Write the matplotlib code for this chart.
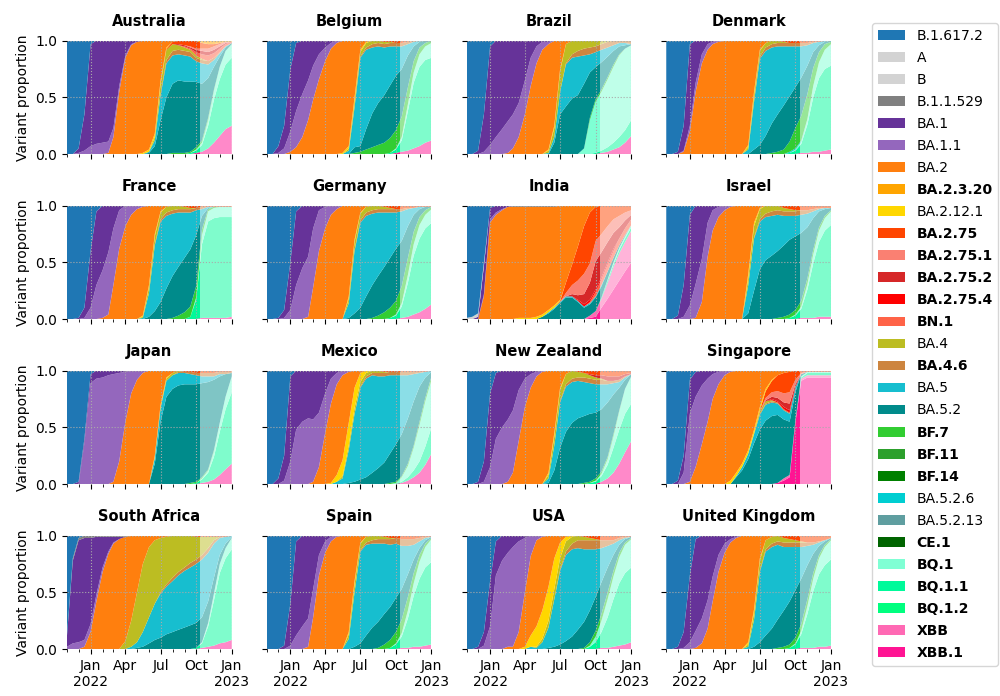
import matplotlib
matplotlib.use('Agg')
import matplotlib.pyplot as plt
import matplotlib.dates as mdates
from matplotlib.patches import Patch
import numpy as np
import pandas as pd


# sampling dates (1st and 16th of each month)
sample_dates = ['2021-11-01', '2021-11-16', '2021-12-01', '2021-12-16',
                '2022-01-01', '2022-01-16', '2022-02-01', '2022-02-16', '2022-03-01', '2022-03-16',
                '2022-04-01', '2022-04-16', '2022-05-01', '2022-05-16', '2022-06-01', '2022-06-16',
                '2022-07-01', '2022-07-16', '2022-08-01', '2022-08-16', '2022-09-01', '2022-09-16',
                '2022-10-01', '2022-10-16', '2022-11-01', '2022-11-16', '2022-12-01', '2022-12-16',
                '2023-01-01']
forecast_start = '2022-10-12'

tick_dates = ['2022-01-01', '2022-04-01', '2022-07-01', '2022-10-01', '2023-01-01']
tick_labels = ['Jan\n2022', 'Apr', 'Jul', 'Oct', 'Jan\n2023']

variants = ['B.1.617.2', 'A', 'B', 'B.1.1.529', 'BA.1', 'BA.1.1', 'BA.2', 'BA.2.3.20',
            'BA.2.12.1', 'BA.2.75', 'BA.2.75.1', 'BA.2.75.2', 'BA.2.75.4', 'BN.1', 'BA.4',
            'BA.4.6', 'BA.5', 'BA.5.2', 'BF.7', 'BF.11', 'BF.14', 'BA.5.2.6', 'BA.5.2.13',
            'CE.1', 'BQ.1', 'BQ.1.1', 'BQ.1.2', 'XBB', 'XBB.1']
variant_colors = ['#1f77b4', 'lightgrey', 'lightgrey', 'grey', 'rebeccapurple', '#9467bd',
                  '#ff7f0e', 'orange', 'gold', 'orangered', 'salmon', '#d62728', 'red',
                  'tomato', '#bcbd22', 'peru', '#17becf', 'darkcyan', 'limegreen', '#2ca02c',
                  'green', 'darkturquoise', 'cadetblue', 'darkgreen', 'aquamarine',
                  'mediumspringgreen', 'springgreen', 'hotpink', 'deeppink']
bold_variants = ['BA.2.3.20', 'BA.2.75', 'BA.2.75.1', 'BA.2.75.2', 'BA.2.75.4', 'BN.1',
                 'BA.4.6', 'BF.7', 'BF.11', 'BF.14', 'CE.1', 'BQ.1', 'BQ.1.1', 'BQ.1.2',
                 'XBB', 'XBB.1']

countries = ['Australia', 'Belgium', 'Brazil', 'Denmark', 'France', 'Germany', 'India',
             'Israel', 'Japan', 'Mexico', 'New Zealand', 'Singapore', 'South Africa',
             'Spain', 'USA', 'United Kingdom']

# variant proportions (%) per country, one value per sample date
australia = {
    'B.1.617.2': [100, 100, 95, 65, 3, 0, 0, 0, 0, 0, 0, 0, 0, 0, 0, 0, 0, 0, 0, 0, 0, 0, 0, 0, 0, 0, 0, 0, 0],
    'BA.1':      [0, 0, 4, 32, 90, 91, 90, 89, 77, 40, 13, 3, 1, 0, 0, 0, 0, 0, 0, 0, 0, 0, 0, 0, 0, 0, 0, 0, 0],
    'BA.1.1':    [0, 0, 1, 3, 7, 9, 10, 10, 8, 5, 2, 1, 0, 0, 0, 0, 0, 0, 0, 0, 0, 0, 0, 0, 0, 0, 0, 0, 0],
    'BA.2':      [0, 0, 0, 0, 0, 0, 0, 1, 15, 55, 85, 96, 99, 99, 96, 82, 35, 6, 1, 0, 0, 0, 0, 0, 0, 0, 0, 0, 0],
    'BA.2.3.20': [0, 0, 0, 0, 0, 0, 0, 0, 0, 0, 0, 0, 0, 0, 0, 0, 0, 0, 0, 0, 0, 0, 0, 2, 3, 3, 2, 1, 1],
    'BA.2.12.1': [0, 0, 0, 0, 0, 0, 0, 0, 0, 0, 0, 0, 0, 1, 2, 3, 3, 1, 0, 0, 0, 0, 0, 0, 0, 0, 0, 0, 0],
    'BA.2.75':   [0, 0, 0, 0, 0, 0, 0, 0, 0, 0, 0, 0, 0, 0, 0, 0, 0, 1, 2, 3, 4, 5, 7, 5, 4, 2, 1, 0, 0],
    'BA.2.75.1': [0, 0, 0, 0, 0, 0, 0, 0, 0, 0, 0, 0, 0, 0, 0, 0, 0, 0, 0, 0, 0, 1, 1, 2, 3, 3, 2, 1, 0],
    'BA.2.75.2': [0, 0, 0, 0, 0, 0, 0, 0, 0, 0, 0, 0, 0, 0, 0, 0, 0, 0, 0, 1, 1, 1, 2, 3, 3, 3, 2, 1, 0],
    'BN.1':      [0, 0, 0, 0, 0, 0, 0, 0, 0, 0, 0, 0, 0, 0, 0, 0, 0, 0, 0, 0, 1, 1, 3, 4, 5, 4, 3, 2, 1],
    'BA.4':      [0, 0, 0, 0, 0, 0, 0, 0, 0, 0, 0, 0, 0, 0, 0, 3, 9, 9, 6, 4, 3, 2, 2, 1, 0, 0, 0, 0, 0],
    'BA.4.6':    [0, 0, 0, 0, 0, 0, 0, 0, 0, 0, 0, 0, 0, 0, 0, 0, 1, 3, 4, 4, 4, 4, 3, 3, 3, 2, 1, 0, 0],
    'BA.5':      [0, 0, 0, 0, 0, 0, 0, 0, 0, 0, 0, 0, 0, 0, 1, 5, 22, 30, 25, 23, 23, 22, 18, 18, 12, 6, 3, 1, 0],
    'BA.5.2':    [0, 0, 0, 0, 0, 0, 0, 0, 0, 0, 0, 0, 0, 0, 1, 7, 30, 50, 61, 64, 63, 62, 57, 50, 35, 20, 9, 3, 1],
    'BF.7':      [0, 0, 0, 0, 0, 0, 0, 0, 0, 0, 0, 0, 0, 0, 0, 0, 0, 0, 1, 1, 1, 1, 2, 2, 2, 1, 0, 0, 0],
    'BQ.1':      [0, 0, 0, 0, 0, 0, 0, 0, 0, 0, 0, 0, 0, 0, 0, 0, 0, 0, 0, 0, 0, 0, 1, 2, 5, 8, 11, 12, 12],
    'BQ.1.1':    [0, 0, 0, 0, 0, 0, 0, 0, 0, 0, 0, 0, 0, 0, 0, 0, 0, 0, 0, 0, 0, 1, 2, 6, 20, 38, 50, 57, 60],
    'XBB.1':     [0, 0, 0, 0, 0, 0, 0, 0, 0, 0, 0, 0, 0, 0, 0, 0, 0, 0, 0, 0, 0, 0, 1, 2, 5, 10, 16, 22, 25],
}

belgium = {
    'B.1.617.2': [100, 100, 93, 75, 25, 2, 0, 0, 0, 0, 0, 0, 0, 0, 0, 0, 0, 0, 0, 0, 0, 0, 0, 0, 0, 0, 0, 0, 0],
    'BA.1':      [0, 0, 6, 20, 55, 60, 47, 35, 22, 12, 6, 2, 0, 0, 0, 0, 0, 0, 0, 0, 0, 0, 0, 0, 0, 0, 0, 0, 0],
    'BA.1.1':    [0, 0, 1, 5, 18, 32, 38, 35, 30, 22, 12, 5, 2, 0, 0, 0, 0, 0, 0, 0, 0, 0, 0, 0, 0, 0, 0, 0, 0],
    'BA.2':      [0, 0, 0, 0, 2, 6, 15, 30, 48, 66, 82, 93, 98, 99, 93, 50, 8, 1, 0, 0, 0, 0, 0, 0, 0, 0, 0, 0, 0],
    'BA.2.12.1': [0, 0, 0, 0, 0, 0, 0, 0, 0, 0, 0, 0, 0, 1, 2, 3, 2, 1, 0, 0, 0, 0, 0, 0, 0, 0, 0, 0, 0],
    'BA.2.75':   [0, 0, 0, 0, 0, 0, 0, 0, 0, 0, 0, 0, 0, 0, 0, 0, 0, 0, 0, 0, 1, 1, 2, 2, 1, 0, 0, 0, 0],
    'BA.4':      [0, 0, 0, 0, 0, 0, 0, 0, 0, 0, 0, 0, 0, 0, 2, 5, 4, 4, 3, 2, 2, 1, 0, 0, 0, 0, 0, 0, 0],
    'BA.4.6':    [0, 0, 0, 0, 0, 0, 0, 0, 0, 0, 0, 0, 0, 0, 0, 1, 1, 2, 3, 3, 3, 3, 3, 3, 2, 1, 0, 0, 0],
    'BA.5':      [0, 0, 0, 0, 0, 0, 0, 0, 0, 0, 0, 0, 0, 0, 3, 35, 78, 70, 58, 50, 42, 34, 26, 20, 10, 4, 1, 0, 0],
    'BA.5.2':    [0, 0, 0, 0, 0, 0, 0, 0, 0, 0, 0, 0, 0, 0, 0, 5, 5, 18, 30, 37, 42, 46, 48, 42, 28, 13, 5, 2, 0],
    'BF.7':      [0, 0, 0, 0, 0, 0, 0, 0, 0, 0, 0, 0, 0, 0, 0, 1, 2, 4, 6, 8, 10, 13, 16, 18, 15, 10, 6, 3, 2],
    'BQ.1':      [0, 0, 0, 0, 0, 0, 0, 0, 0, 0, 0, 0, 0, 0, 0, 0, 0, 0, 0, 0, 0, 0, 1, 3, 6, 9, 11, 12, 13],
    'BQ.1.1':    [0, 0, 0, 0, 0, 0, 0, 0, 0, 0, 0, 0, 0, 0, 0, 0, 0, 0, 0, 0, 0, 1, 3, 10, 35, 58, 70, 73, 73],
    'XBB.1':     [0, 0, 0, 0, 0, 0, 0, 0, 0, 0, 0, 0, 0, 0, 0, 0, 0, 0, 0, 0, 0, 0, 1, 2, 3, 5, 7, 10, 12],
}

brazil = {
    'B.1.617.2': [100, 100, 97, 65, 5, 0, 0, 0, 0, 0, 0, 0, 0, 0, 0, 0, 0, 0, 0, 0, 0, 0, 0, 0, 0, 0, 0, 0, 0],
    'BA.1':      [0, 0, 3, 33, 87, 85, 78, 71, 65, 55, 35, 15, 5, 1, 1, 0, 0, 0, 0, 0, 0, 0, 0, 0, 0, 0, 0, 0, 0],
    'BA.1.1':    [0, 0, 0, 2, 8, 15, 22, 28, 30, 30, 30, 25, 15, 7, 2, 0, 0, 0, 0, 0, 0, 0, 0, 0, 0, 0, 0, 0, 0],
    'BA.2':      [0, 0, 0, 0, 0, 0, 0, 1, 5, 15, 35, 60, 80, 92, 93, 75, 25, 3, 0, 0, 0, 0, 0, 0, 0, 0, 0, 0, 0],
    'BA.2.12.1': [0, 0, 0, 0, 0, 0, 0, 0, 0, 0, 0, 0, 0, 0, 1, 2, 2, 0, 0, 0, 0, 0, 0, 0, 0, 0, 0, 0, 0],
    'BA.4':      [0, 0, 0, 0, 0, 0, 0, 0, 0, 0, 0, 0, 0, 0, 2, 8, 18, 17, 12, 9, 7, 6, 5, 3, 1, 0, 0, 0, 0],
    'BA.4.6':    [0, 0, 0, 0, 0, 0, 0, 0, 0, 0, 0, 0, 0, 0, 0, 0, 0, 1, 3, 5, 6, 6, 5, 5, 5, 4, 2, 2, 3],
    'BA.5':      [0, 0, 0, 0, 0, 0, 0, 0, 0, 0, 0, 0, 0, 0, 1, 5, 20, 37, 36, 34, 25, 16, 13, 11, 8, 5, 3, 2, 0],
    'BA.5.2':    [0, 0, 0, 0, 0, 0, 0, 0, 0, 0, 0, 0, 0, 0, 0, 10, 35, 42, 49, 52, 57, 40, 28, 24, 18, 12, 7, 3, 1],
    'BF.7':      [0, 0, 0, 0, 0, 0, 0, 0, 0, 0, 0, 0, 0, 0, 0, 0, 0, 0, 0, 0, 0, 2, 2, 2, 2, 2, 1, 0, 0],
    'BQ.1':      [0, 0, 0, 0, 0, 0, 0, 0, 0, 0, 0, 0, 0, 0, 0, 0, 0, 0, 0, 0, 5, 30, 45, 52, 60, 67, 72, 72, 66],
    'BQ.1.1':    [0, 0, 0, 0, 0, 0, 0, 0, 0, 0, 0, 0, 0, 0, 0, 0, 0, 0, 0, 0, 0, 0, 1, 2, 4, 6, 9, 11, 14],
    'XBB.1':     [0, 0, 0, 0, 0, 0, 0, 0, 0, 0, 0, 0, 0, 0, 0, 0, 0, 0, 0, 0, 0, 0, 0, 1, 2, 4, 6, 10, 16],
}

denmark = {
    'B.1.617.2': [100, 100, 98, 75, 3, 0, 0, 0, 0, 0, 0, 0, 0, 0, 0, 0, 0, 0, 0, 0, 0, 0, 0, 0, 0, 0, 0, 0, 0],
    'BA.1':      [0, 0, 2, 22, 72, 37, 12, 3, 1, 0, 0, 0, 0, 0, 0, 0, 0, 0, 0, 0, 0, 0, 0, 0, 0, 0, 0, 0, 0],
    'BA.1.1':    [0, 0, 0, 1, 5, 8, 8, 5, 2, 1, 0, 0, 0, 0, 0, 0, 0, 0, 0, 0, 0, 0, 0, 0, 0, 0, 0, 0, 0],
    'BA.2':      [0, 0, 0, 2, 20, 55, 80, 92, 97, 99, 100, 100, 100, 100, 92, 45, 8, 2, 0, 0, 0, 0, 0, 0, 0, 0, 0, 0, 0],
    'BA.2.12.1': [0, 0, 0, 0, 0, 0, 0, 0, 0, 0, 0, 0, 0, 0, 2, 3, 1, 0, 0, 0, 0, 0, 0, 0, 0, 0, 0, 0, 0],
    'BA.2.75':   [0, 0, 0, 0, 0, 0, 0, 0, 0, 0, 0, 0, 0, 0, 0, 0, 0, 0, 0, 0, 1, 2, 2, 2, 2, 1, 1, 0, 0],
    'BA.4':      [0, 0, 0, 0, 0, 0, 0, 0, 0, 0, 0, 0, 0, 0, 2, 5, 5, 4, 3, 2, 1, 0, 0, 0, 0, 0, 0, 0, 0],
    'BA.4.6':    [0, 0, 0, 0, 0, 0, 0, 0, 0, 0, 0, 0, 0, 0, 0, 1, 2, 3, 3, 3, 3, 3, 3, 3, 2, 1, 0, 0, 0],
    'BA.5':      [0, 0, 0, 0, 0, 0, 0, 0, 0, 0, 0, 0, 0, 0, 4, 42, 76, 75, 67, 60, 52, 44, 36, 28, 18, 8, 3, 1, 0],
    'BA.5.2':    [0, 0, 0, 0, 0, 0, 0, 0, 0, 0, 0, 0, 0, 0, 0, 4, 8, 16, 26, 33, 39, 40, 36, 34, 25, 14, 6, 2, 1],
    'BF.7':      [0, 0, 0, 0, 0, 0, 0, 0, 0, 0, 0, 0, 0, 0, 0, 0, 0, 0, 1, 2, 4, 9, 18, 22, 22, 16, 9, 5, 2],
    'BA.5.2.6':  [0, 0, 0, 0, 0, 0, 0, 0, 0, 0, 0, 0, 0, 0, 0, 0, 0, 0, 0, 0, 0, 1, 1, 1, 0, 0, 0, 0, 0],
    'BQ.1':      [0, 0, 0, 0, 0, 0, 0, 0, 0, 0, 0, 0, 0, 0, 0, 0, 0, 0, 0, 0, 0, 0, 1, 2, 5, 10, 14, 17, 19],
    'BQ.1.1':    [0, 0, 0, 0, 0, 0, 0, 0, 0, 0, 0, 0, 0, 0, 0, 0, 0, 0, 0, 0, 0, 1, 3, 8, 25, 48, 65, 72, 74],
    'XBB.1':     [0, 0, 0, 0, 0, 0, 0, 0, 0, 0, 0, 0, 0, 0, 0, 0, 0, 0, 0, 0, 0, 0, 0, 1, 1, 2, 2, 3, 4],
}

france = {
    'B.1.617.2': [100, 100, 99, 90, 40, 5, 0, 0, 0, 0, 0, 0, 0, 0, 0, 0, 0, 0, 0, 0, 0, 0, 0, 0, 0, 0, 0, 0, 0],
    'BA.1':      [0, 0, 1, 9, 50, 65, 57, 41, 20, 4, 0, 0, 0, 0, 0, 0, 0, 0, 0, 0, 0, 0, 0, 0, 0, 0, 0, 0, 0],
    'BA.1.1':    [0, 0, 0, 1, 10, 30, 42, 55, 50, 34, 18, 8, 3, 1, 0, 0, 0, 0, 0, 0, 0, 0, 0, 0, 0, 0, 0, 0, 0],
    'BA.2':      [0, 0, 0, 0, 0, 0, 1, 4, 30, 62, 82, 92, 97, 97, 70, 25, 5, 1, 0, 0, 0, 0, 0, 0, 0, 0, 0, 0, 0],
    'BA.2.12.1': [0, 0, 0, 0, 0, 0, 0, 0, 0, 0, 0, 0, 0, 1, 2, 2, 1, 0, 0, 0, 0, 0, 0, 0, 0, 0, 0, 0, 0],
    'BA.2.75':   [0, 0, 0, 0, 0, 0, 0, 0, 0, 0, 0, 0, 0, 0, 0, 0, 0, 0, 0, 0, 1, 2, 2, 1, 1, 1, 1, 1, 1],
    'BA.4':      [0, 0, 0, 0, 0, 0, 0, 0, 0, 0, 0, 0, 0, 1, 5, 7, 6, 5, 4, 3, 2, 1, 0, 0, 0, 0, 0, 0, 0],
    'BA.4.6':    [0, 0, 0, 0, 0, 0, 0, 0, 0, 0, 0, 0, 0, 0, 0, 1, 2, 3, 3, 3, 3, 3, 2, 2, 0, 0, 0, 0, 0],
    'BA.5':      [0, 0, 0, 0, 0, 0, 0, 0, 0, 0, 0, 0, 0, 1, 21, 58, 71, 64, 55, 48, 40, 32, 22, 6, 1, 0, 0, 0, 0],
    'BA.5.2':    [0, 0, 0, 0, 0, 0, 0, 0, 0, 0, 0, 0, 0, 0, 2, 7, 15, 27, 37, 43, 48, 50, 45, 12, 1, 0, 0, 0, 0],
    'BF.7':      [0, 0, 0, 0, 0, 0, 0, 0, 0, 0, 0, 0, 0, 0, 0, 0, 0, 0, 1, 3, 6, 9, 10, 5, 2, 1, 0, 0, 0],
    'BQ.1':      [0, 0, 0, 0, 0, 0, 0, 0, 0, 0, 0, 0, 0, 0, 0, 0, 0, 0, 0, 0, 0, 0, 2, 8, 9, 9, 9, 9, 9],
    'BQ.1.1':    [0, 0, 0, 0, 0, 0, 0, 0, 0, 0, 0, 0, 0, 0, 0, 0, 0, 0, 0, 0, 0, 2, 17, 65, 86, 88, 89, 89, 88],
    'XBB.1':     [0, 0, 0, 0, 0, 0, 0, 0, 0, 0, 0, 0, 0, 0, 0, 0, 0, 0, 0, 0, 0, 0, 0, 1, 1, 1, 1, 1, 2],
}

germany = {
    'B.1.617.2': [100, 100, 99, 92, 50, 5, 0, 0, 0, 0, 0, 0, 0, 0, 0, 0, 0, 0, 0, 0, 0, 0, 0, 0, 0, 0, 0, 0, 0],
    'BA.1':      [0, 0, 1, 7, 42, 65, 55, 45, 20, 4, 1, 0, 0, 0, 0, 0, 0, 0, 0, 0, 0, 0, 0, 0, 0, 0, 0, 0, 0],
    'BA.1.1':    [0, 0, 0, 1, 8, 30, 45, 53, 52, 36, 19, 8, 3, 0, 0, 0, 0, 0, 0, 0, 0, 0, 0, 0, 0, 0, 0, 0, 0],
    'BA.2':      [0, 0, 0, 0, 0, 0, 0, 2, 28, 60, 80, 92, 97, 100, 80, 30, 6, 1, 0, 0, 0, 0, 0, 0, 0, 0, 0, 0, 0],
    'BA.2.12.1': [0, 0, 0, 0, 0, 0, 0, 0, 0, 0, 0, 0, 0, 0, 2, 2, 1, 0, 0, 0, 0, 0, 0, 0, 0, 0, 0, 0, 0],
    'BA.2.75':   [0, 0, 0, 0, 0, 0, 0, 0, 0, 0, 0, 0, 0, 0, 0, 0, 0, 0, 0, 0, 1, 2, 3, 3, 2, 2, 1, 1, 1],
    'BA.4':      [0, 0, 0, 0, 0, 0, 0, 0, 0, 0, 0, 0, 0, 0, 4, 7, 6, 5, 4, 3, 2, 1, 0, 0, 0, 0, 0, 0, 0],
    'BA.4.6':    [0, 0, 0, 0, 0, 0, 0, 0, 0, 0, 0, 0, 0, 0, 0, 1, 2, 3, 3, 3, 3, 3, 3, 2, 1, 0, 0, 0, 0],
    'BA.5':      [0, 0, 0, 0, 0, 0, 0, 0, 0, 0, 0, 0, 0, 0, 13, 55, 75, 71, 63, 56, 48, 40, 32, 26, 15, 6, 2, 0, 0],
    'BA.5.2':    [0, 0, 0, 0, 0, 0, 0, 0, 0, 0, 0, 0, 0, 0, 1, 5, 10, 20, 29, 35, 40, 44, 46, 40, 28, 15, 7, 3, 0],
    'BF.7':      [0, 0, 0, 0, 0, 0, 0, 0, 0, 0, 0, 0, 0, 0, 0, 0, 0, 0, 1, 3, 6, 9, 12, 15, 15, 11, 7, 4, 2],
    'BQ.1':      [0, 0, 0, 0, 0, 0, 0, 0, 0, 0, 0, 0, 0, 0, 0, 0, 0, 0, 0, 0, 0, 0, 1, 3, 7, 10, 12, 12, 12],
    'BQ.1.1':    [0, 0, 0, 0, 0, 0, 0, 0, 0, 0, 0, 0, 0, 0, 0, 0, 0, 0, 0, 0, 0, 1, 3, 10, 30, 52, 65, 71, 72],
    'XBB.1':     [0, 0, 0, 0, 0, 0, 0, 0, 0, 0, 0, 0, 0, 0, 0, 0, 0, 0, 0, 0, 0, 0, 0, 1, 2, 4, 6, 9, 13],
}

india = {
    'B.1.617.2': [99, 98, 95, 50, 2, 0, 0, 0, 0, 0, 0, 0, 0, 0, 0, 0, 0, 0, 0, 0, 0, 0, 0, 0, 0, 0, 0, 0, 0],
    'A':         [1, 2, 3, 3, 0, 0, 0, 0, 0, 0, 0, 0, 0, 0, 0, 0, 0, 0, 0, 0, 0, 0, 0, 0, 0, 0, 0, 0, 0],
    'B.1.1.529': [0, 0, 0, 0, 0, 0, 0, 0, 1, 1, 1, 1, 1, 1, 1, 1, 0, 0, 0, 0, 0, 0, 0, 0, 0, 0, 0, 0, 0],
    'BA.1':      [0, 0, 2, 25, 10, 6, 3, 1, 0, 0, 0, 0, 0, 0, 0, 0, 0, 0, 0, 0, 0, 0, 0, 0, 0, 0, 0, 0, 0],
    'BA.1.1':    [0, 0, 0, 2, 3, 2, 1, 0, 0, 0, 0, 0, 0, 0, 0, 0, 0, 0, 0, 0, 0, 0, 0, 0, 0, 0, 0, 0, 0],
    'BA.2':      [0, 0, 0, 20, 85, 92, 96, 99, 98, 98, 98, 98, 97, 95, 91, 87, 83, 68, 52, 36, 18, 6, 1, 0, 0, 0, 0, 0, 0],
    'BA.2.12.1': [0, 0, 0, 0, 0, 0, 0, 0, 0, 1, 1, 1, 2, 2, 2, 2, 1, 0, 0, 0, 0, 0, 0, 0, 0, 0, 0, 0, 0],
    'BA.2.75':   [0, 0, 0, 0, 0, 0, 0, 0, 0, 0, 0, 0, 0, 0, 0, 0, 1, 9, 18, 30, 42, 45, 30, 25, 18, 12, 9, 6, 4],
    'BA.2.75.1': [0, 0, 0, 0, 0, 0, 0, 0, 0, 0, 0, 0, 0, 0, 0, 0, 0, 3, 8, 13, 18, 17, 18, 16, 14, 12, 10, 7, 4],
    'BA.2.75.2': [0, 0, 0, 0, 0, 0, 0, 0, 0, 0, 0, 0, 0, 0, 0, 0, 0, 0, 2, 4, 9, 15, 25, 22, 18, 14, 10, 7, 4],
    'BA.2.75.4': [0, 0, 0, 0, 0, 0, 0, 0, 0, 0, 0, 0, 0, 0, 0, 0, 0, 0, 0, 1, 2, 2, 2, 2, 2, 2, 0, 0, 0],
    'BN.1':      [0, 0, 0, 0, 0, 0, 0, 0, 0, 0, 0, 0, 0, 0, 0, 0, 0, 0, 0, 0, 0, 1, 4, 5, 6, 6, 6, 6, 5],
    'BA.5':      [0, 0, 0, 0, 0, 0, 0, 0, 0, 0, 0, 0, 0, 0, 1, 1, 1, 1, 1, 1, 1, 1, 1, 1, 0, 0, 0, 0, 0],
    'BA.5.2':    [0, 0, 0, 0, 0, 0, 0, 0, 0, 0, 0, 0, 0, 2, 5, 9, 14, 19, 19, 15, 10, 10, 12, 10, 7, 4, 2, 1, 0],
    'BQ.1':      [0, 0, 0, 0, 0, 0, 0, 0, 0, 0, 0, 0, 0, 0, 0, 0, 0, 0, 0, 0, 0, 0, 0, 0, 1, 2, 2, 2, 2],
    'BQ.1.1':    [0, 0, 0, 0, 0, 0, 0, 0, 0, 0, 0, 0, 0, 0, 0, 0, 0, 0, 0, 0, 0, 0, 0, 1, 2, 2, 3, 3, 3],
    'XBB':       [0, 0, 0, 0, 0, 0, 0, 0, 0, 0, 0, 0, 0, 0, 0, 0, 0, 0, 0, 0, 0, 2, 5, 8, 14, 20, 24, 26, 28],
    'XBB.1':     [0, 0, 0, 0, 0, 0, 0, 0, 0, 0, 0, 0, 0, 0, 0, 0, 0, 0, 0, 0, 0, 1, 2, 10, 18, 26, 34, 42, 50],
}

israel = {
    'B.1.617.2': [100, 100, 97, 70, 8, 0, 0, 0, 0, 0, 0, 0, 0, 0, 0, 0, 0, 0, 0, 0, 0, 0, 0, 0, 0, 0, 0, 0, 0],
    'BA.1':      [0, 0, 3, 28, 80, 69, 47, 15, 4, 1, 0, 0, 0, 0, 0, 0, 0, 0, 0, 0, 0, 0, 0, 0, 0, 0, 0, 0, 0],
    'BA.1.1':    [0, 0, 0, 2, 12, 30, 38, 30, 18, 9, 4, 1, 0, 0, 0, 0, 0, 0, 0, 0, 0, 0, 0, 0, 0, 0, 0, 0, 0],
    'BA.2':      [0, 0, 0, 0, 0, 1, 15, 55, 78, 90, 96, 99, 100, 100, 60, 15, 2, 0, 0, 0, 0, 0, 0, 0, 0, 0, 0, 0, 0],
    'BA.2.12.1': [0, 0, 0, 0, 0, 0, 0, 0, 0, 0, 0, 0, 0, 0, 4, 3, 1, 0, 0, 0, 0, 0, 0, 0, 0, 0, 0, 0, 0],
    'BA.2.75':   [0, 0, 0, 0, 0, 0, 0, 0, 0, 0, 0, 0, 0, 0, 0, 0, 0, 0, 0, 0, 2, 3, 4, 4, 4, 3, 2, 2, 2],
    'BA.4':      [0, 0, 0, 0, 0, 0, 0, 0, 0, 0, 0, 0, 0, 0, 6, 10, 9, 7, 5, 4, 3, 2, 1, 0, 0, 0, 0, 0, 0],
    'BA.4.6':    [0, 0, 0, 0, 0, 0, 0, 0, 0, 0, 0, 0, 0, 0, 0, 1, 2, 3, 4, 4, 4, 4, 4, 4, 3, 2, 1, 0, 0],
    'BA.5':      [0, 0, 0, 0, 0, 0, 0, 0, 0, 0, 0, 0, 0, 0, 25, 46, 42, 38, 35, 32, 26, 21, 18, 16, 12, 6, 2, 1, 0],
    'BA.5.2':    [0, 0, 0, 0, 0, 0, 0, 0, 0, 0, 0, 0, 0, 0, 5, 25, 44, 52, 56, 59, 63, 66, 65, 60, 45, 28, 14, 6, 2],
    'BF.7':      [0, 0, 0, 0, 0, 0, 0, 0, 0, 0, 0, 0, 0, 0, 0, 0, 0, 0, 0, 1, 2, 3, 4, 5, 5, 4, 3, 2, 1],
    'BQ.1':      [0, 0, 0, 0, 0, 0, 0, 0, 0, 0, 0, 0, 0, 0, 0, 0, 0, 0, 0, 0, 0, 0, 1, 2, 5, 8, 10, 11, 12],
    'BQ.1.1':    [0, 0, 0, 0, 0, 0, 0, 0, 0, 0, 0, 0, 0, 0, 0, 0, 0, 0, 0, 0, 0, 1, 3, 8, 25, 48, 66, 76, 81],
    'XBB.1':     [0, 0, 0, 0, 0, 0, 0, 0, 0, 0, 0, 0, 0, 0, 0, 0, 0, 0, 0, 0, 0, 0, 0, 1, 1, 1, 2, 2, 2],
}

japan = {
    'B.1.617.2': [100, 100, 98, 60, 3, 0, 0, 0, 0, 0, 0, 0, 0, 0, 0, 0, 0, 0, 0, 0, 0, 0, 0, 0, 0, 0, 0, 0, 0],
    'BA.1':      [0, 0, 2, 4, 8, 7, 6, 4, 3, 2, 1, 0, 0, 0, 0, 0, 0, 0, 0, 0, 0, 0, 0, 0, 0, 0, 0, 0, 0],
    'BA.1.1':    [0, 0, 0, 36, 89, 93, 94, 96, 95, 78, 44, 20, 8, 2, 0, 0, 0, 0, 0, 0, 0, 0, 0, 0, 0, 0, 0, 0, 0],
    'BA.2':      [0, 0, 0, 0, 0, 0, 0, 0, 2, 20, 55, 80, 92, 98, 100, 75, 30, 6, 2, 0, 0, 0, 0, 0, 0, 0, 0, 0, 0],
    'BA.2.12.1': [0, 0, 0, 0, 0, 0, 0, 0, 0, 0, 0, 0, 0, 0, 0, 2, 2, 1, 0, 0, 0, 0, 0, 0, 0, 0, 0, 0, 0],
    'BA.2.75':   [0, 0, 0, 0, 0, 0, 0, 0, 0, 0, 0, 0, 0, 0, 0, 0, 0, 0, 0, 0, 1, 1, 2, 2, 2, 2, 1, 1, 1],
    'BA.4':      [0, 0, 0, 0, 0, 0, 0, 0, 0, 0, 0, 0, 0, 0, 0, 0, 1, 2, 2, 1, 0, 0, 0, 0, 0, 0, 0, 0, 0],
    'BA.4.6':    [0, 0, 0, 0, 0, 0, 0, 0, 0, 0, 0, 0, 0, 0, 0, 0, 0, 0, 0, 1, 1, 2, 2, 3, 3, 3, 2, 2, 1],
    'BA.5':      [0, 0, 0, 0, 0, 0, 0, 0, 0, 0, 0, 0, 0, 0, 0, 5, 12, 14, 12, 11, 10, 9, 8, 6, 5, 3, 2, 0, 0],
    'BA.5.2':    [0, 0, 0, 0, 0, 0, 0, 0, 0, 0, 0, 0, 0, 0, 0, 18, 55, 77, 84, 87, 88, 87, 86, 83, 77, 62, 41, 20, 3],
    'BF.7':      [0, 0, 0, 0, 0, 0, 0, 0, 0, 0, 0, 0, 0, 0, 0, 0, 0, 0, 0, 0, 0, 1, 1, 1, 1, 1, 0, 0, 0],
    'BQ.1':      [0, 0, 0, 0, 0, 0, 0, 0, 0, 0, 0, 0, 0, 0, 0, 0, 0, 0, 0, 0, 0, 0, 0, 1, 2, 5, 8, 11, 14],
    'BQ.1.1':    [0, 0, 0, 0, 0, 0, 0, 0, 0, 0, 0, 0, 0, 0, 0, 0, 0, 0, 0, 0, 0, 0, 1, 3, 8, 20, 38, 53, 63],
    'XBB.1':     [0, 0, 0, 0, 0, 0, 0, 0, 0, 0, 0, 0, 0, 0, 0, 0, 0, 0, 0, 0, 0, 0, 0, 1, 2, 4, 8, 13, 18],
}

mexico = {
    'B.1.617.2': [100, 100, 95, 75, 5, 0, 0, 0, 0, 0, 0, 0, 0, 0, 0, 0, 0, 0, 0, 0, 0, 0, 0, 0, 0, 0, 0, 0, 0],
    'BA.1':      [0, 0, 5, 22, 75, 52, 45, 42, 43, 37, 20, 7, 2, 0, 0, 0, 0, 0, 0, 0, 0, 0, 0, 0, 0, 0, 0, 0, 0],
    'BA.1.1':    [0, 0, 0, 3, 20, 48, 55, 58, 55, 48, 35, 22, 10, 4, 1, 0, 0, 0, 0, 0, 0, 0, 0, 0, 0, 0, 0, 0, 0],
    'BA.2':      [0, 0, 0, 0, 0, 0, 0, 0, 2, 15, 45, 70, 80, 75, 45, 15, 2, 0, 0, 0, 0, 0, 0, 0, 0, 0, 0, 0, 0],
    'BA.2.12.1': [0, 0, 0, 0, 0, 0, 0, 0, 0, 0, 0, 1, 6, 14, 20, 18, 8, 2, 0, 0, 0, 0, 0, 0, 0, 0, 0, 0, 0],
    'BA.2.75':   [0, 0, 0, 0, 0, 0, 0, 0, 0, 0, 0, 0, 0, 0, 0, 0, 0, 0, 0, 0, 1, 1, 1, 1, 1, 1, 1, 1, 0],
    'BA.4':      [0, 0, 0, 0, 0, 0, 0, 0, 0, 0, 0, 0, 0, 2, 4, 5, 4, 3, 2, 2, 1, 0, 0, 0, 0, 0, 0, 0, 0],
    'BA.4.6':    [0, 0, 0, 0, 0, 0, 0, 0, 0, 0, 0, 0, 0, 0, 0, 0, 1, 2, 2, 3, 3, 3, 3, 3, 3, 2, 1, 0, 0],
    'BA.5':      [0, 0, 0, 0, 0, 0, 0, 0, 0, 0, 0, 0, 2, 5, 29, 60, 81, 87, 86, 81, 76, 69, 61, 52, 38, 24, 12, 5, 1],
    'BA.5.2':    [0, 0, 0, 0, 0, 0, 0, 0, 0, 0, 0, 0, 0, 0, 1, 2, 4, 6, 10, 14, 19, 26, 33, 37, 40, 39, 31, 18, 4],
    'BF.7':      [0, 0, 0, 0, 0, 0, 0, 0, 0, 0, 0, 0, 0, 0, 0, 0, 0, 0, 0, 0, 0, 1, 1, 1, 2, 2, 3, 3, 3],
    'BQ.1':      [0, 0, 0, 0, 0, 0, 0, 0, 0, 0, 0, 0, 0, 0, 0, 0, 0, 0, 0, 0, 0, 0, 1, 4, 10, 20, 32, 40, 42],
    'BQ.1.1':    [0, 0, 0, 0, 0, 0, 0, 0, 0, 0, 0, 0, 0, 0, 0, 0, 0, 0, 0, 0, 0, 0, 0, 1, 3, 6, 10, 16, 23],
    'XBB.1':     [0, 0, 0, 0, 0, 0, 0, 0, 0, 0, 0, 0, 0, 0, 0, 0, 0, 0, 0, 0, 0, 0, 0, 1, 3, 6, 10, 17, 27],
}

new_zealand = {
    'B.1.617.2': [100, 100, 98, 80, 20, 2, 0, 0, 0, 0, 0, 0, 0, 0, 0, 0, 0, 0, 0, 0, 0, 0, 0, 0, 0, 0, 0, 0, 0],
    'BA.1':      [0, 0, 2, 18, 65, 58, 50, 43, 35, 17, 7, 3, 1, 0, 0, 0, 0, 0, 0, 0, 0, 0, 0, 0, 0, 0, 0, 0, 0],
    'BA.1.1':    [0, 0, 0, 2, 15, 40, 50, 55, 55, 45, 25, 12, 4, 1, 0, 0, 0, 0, 0, 0, 0, 0, 0, 0, 0, 0, 0, 0, 0],
    'BA.2':      [0, 0, 0, 0, 0, 0, 0, 2, 10, 38, 68, 85, 95, 99, 90, 55, 15, 3, 0, 0, 0, 0, 0, 0, 0, 0, 0, 0, 0],
    'BA.2.12.1': [0, 0, 0, 0, 0, 0, 0, 0, 0, 0, 0, 0, 0, 0, 2, 3, 2, 0, 0, 0, 0, 0, 0, 0, 0, 0, 0, 0, 0],
    'BA.2.75':   [0, 0, 0, 0, 0, 0, 0, 0, 0, 0, 0, 0, 0, 0, 0, 0, 0, 0, 0, 1, 2, 3, 4, 4, 5, 5, 5, 3, 2],
    'BA.2.75.2': [0, 0, 0, 0, 0, 0, 0, 0, 0, 0, 0, 0, 0, 0, 0, 0, 0, 0, 0, 0, 0, 1, 2, 3, 4, 4, 3, 2, 1],
    'BA.4':      [0, 0, 0, 0, 0, 0, 0, 0, 0, 0, 0, 0, 0, 0, 3, 8, 10, 9, 7, 5, 4, 3, 2, 1, 0, 0, 0, 0, 0],
    'BA.4.6':    [0, 0, 0, 0, 0, 0, 0, 0, 0, 0, 0, 0, 0, 0, 0, 0, 1, 2, 3, 3, 4, 4, 4, 4, 3, 2, 2, 1, 0],
    'BA.5':      [0, 0, 0, 0, 0, 0, 0, 0, 0, 0, 0, 0, 0, 0, 4, 22, 40, 40, 36, 33, 30, 27, 25, 22, 16, 10, 5, 2, 0],
    'BA.5.2':    [0, 0, 0, 0, 0, 0, 0, 0, 0, 0, 0, 0, 0, 0, 1, 12, 32, 46, 54, 58, 59, 60, 58, 55, 48, 35, 20, 8, 2],
    'BF.7':      [0, 0, 0, 0, 0, 0, 0, 0, 0, 0, 0, 0, 0, 0, 0, 0, 0, 0, 0, 0, 1, 1, 2, 2, 2, 2, 1, 0, 0],
    'BQ.1':      [0, 0, 0, 0, 0, 0, 0, 0, 0, 0, 0, 0, 0, 0, 0, 0, 0, 0, 0, 0, 0, 0, 1, 2, 5, 10, 16, 22, 24],
    'BQ.1.1':    [0, 0, 0, 0, 0, 0, 0, 0, 0, 0, 0, 0, 0, 0, 0, 0, 0, 0, 0, 0, 0, 1, 2, 5, 12, 22, 30, 34, 33],
    'XBB.1':     [0, 0, 0, 0, 0, 0, 0, 0, 0, 0, 0, 0, 0, 0, 0, 0, 0, 0, 0, 0, 0, 0, 0, 2, 5, 10, 18, 28, 38],
}

singapore = {
    'B.1.617.2': [100, 100, 97, 75, 8, 1, 0, 0, 0, 0, 0, 0, 0, 0, 0, 0, 0, 0, 0, 0, 0, 0, 0, 0, 0, 0, 0, 0, 0],
    'BA.1':      [0, 0, 3, 15, 30, 22, 13, 7, 3, 1, 0, 0, 0, 0, 0, 0, 0, 0, 0, 0, 0, 0, 0, 0, 0, 0, 0, 0, 0],
    'BA.1.1':    [0, 0, 0, 10, 60, 62, 52, 38, 22, 11, 4, 1, 0, 0, 0, 0, 0, 0, 0, 0, 0, 0, 0, 0, 0, 0, 0, 0, 0],
    'BA.2':      [0, 0, 0, 0, 2, 15, 35, 55, 75, 88, 96, 96, 90, 82, 70, 52, 32, 16, 8, 4, 2, 1, 0, 0, 0, 0, 0, 0, 0],
    'BA.2.12.1': [0, 0, 0, 0, 0, 0, 0, 0, 0, 0, 0, 3, 3, 3, 3, 3, 3, 2, 1, 0, 0, 0, 0, 0, 0, 0, 0, 0, 0],
    'BA.2.75':   [0, 0, 0, 0, 0, 0, 0, 0, 0, 0, 0, 0, 0, 0, 0, 0, 1, 6, 10, 14, 18, 18, 8, 2, 1, 1, 1, 1, 1],
    'BA.2.75.1': [0, 0, 0, 0, 0, 0, 0, 0, 0, 0, 0, 0, 0, 0, 0, 0, 0, 2, 4, 6, 8, 10, 4, 1, 0, 0, 0, 0, 0],
    'BA.2.75.2': [0, 0, 0, 0, 0, 0, 0, 0, 0, 0, 0, 0, 0, 0, 0, 0, 0, 1, 2, 3, 4, 6, 2, 0, 0, 0, 0, 0, 0],
    'BA.2.75.4': [0, 0, 0, 0, 0, 0, 0, 0, 0, 0, 0, 0, 0, 0, 0, 0, 0, 0, 1, 1, 2, 2, 1, 0, 0, 0, 0, 0, 0],
    'BA.4':      [0, 0, 0, 0, 0, 0, 0, 0, 0, 0, 0, 0, 0, 0, 0, 1, 2, 2, 1, 0, 0, 0, 0, 0, 0, 0, 0, 0, 0],
    'BA.4.6':    [0, 0, 0, 0, 0, 0, 0, 0, 0, 0, 0, 0, 0, 0, 0, 0, 1, 1, 1, 1, 1, 1, 0, 0, 0, 0, 0, 0, 0],
    'BA.5':      [0, 0, 0, 0, 0, 0, 0, 0, 0, 0, 0, 0, 1, 3, 5, 8, 13, 14, 12, 10, 8, 7, 4, 0, 0, 0, 0, 0, 0],
    'BA.5.2':    [0, 0, 0, 0, 0, 0, 0, 0, 0, 0, 0, 0, 6, 12, 22, 36, 48, 56, 60, 60, 52, 47, 25, 2, 0, 0, 0, 0, 0],
    'BQ.1':      [0, 0, 0, 0, 0, 0, 0, 0, 0, 0, 0, 0, 0, 0, 0, 0, 0, 0, 0, 0, 0, 0, 0, 1, 1, 1, 1, 1, 1],
    'BQ.1.1':    [0, 0, 0, 0, 0, 0, 0, 0, 0, 0, 0, 0, 0, 0, 0, 0, 0, 0, 0, 0, 0, 0, 0, 1, 2, 2, 2, 2, 2],
    'XBB':       [0, 0, 0, 0, 0, 0, 0, 0, 0, 0, 0, 0, 0, 0, 0, 0, 0, 0, 0, 0, 2, 2, 2, 2, 2, 2, 2, 2, 2],
    'XBB.1':     [0, 0, 0, 0, 0, 0, 0, 0, 0, 0, 0, 0, 0, 0, 0, 0, 0, 0, 0, 1, 3, 6, 55, 92, 94, 94, 94, 94, 94],
}

south_africa = {
    'B.1.617.2': [88, 20, 2, 0, 0, 0, 0, 0, 0, 0, 0, 0, 0, 0, 0, 0, 0, 0, 0, 0, 0, 0, 0, 0, 0, 0, 0, 0, 0],
    'B.1.1.529': [0, 2, 2, 2, 2, 1, 1, 1, 1, 1, 1, 0, 0, 0, 0, 0, 0, 0, 0, 0, 0, 0, 0, 0, 0, 0, 0, 0, 0],
    'BA.1':      [10, 73, 90, 90, 76, 51, 27, 13, 5, 2, 0, 0, 0, 0, 0, 0, 0, 0, 0, 0, 0, 0, 0, 0, 0, 0, 0, 0, 0],
    'BA.1.1':    [2, 5, 6, 6, 7, 6, 4, 2, 1, 0, 0, 0, 0, 0, 0, 0, 0, 0, 0, 0, 0, 0, 0, 0, 0, 0, 0, 0, 0],
    'BA.2':      [0, 0, 0, 2, 15, 42, 68, 84, 93, 97, 92, 75, 50, 25, 10, 4, 2, 1, 0, 0, 0, 0, 0, 0, 0, 0, 0, 0, 0],
    'BA.2.75':   [0, 0, 0, 0, 0, 0, 0, 0, 0, 0, 0, 0, 0, 0, 0, 0, 0, 0, 0, 0, 0, 0, 1, 1, 1, 1, 1, 1, 0],
    'BA.4':      [0, 0, 0, 0, 0, 0, 0, 0, 0, 0, 7, 23, 44, 60, 62, 56, 48, 42, 37, 32, 28, 24, 20, 16, 10, 3, 0, 0, 0],
    'BA.4.6':    [0, 0, 0, 0, 0, 0, 0, 0, 0, 0, 0, 0, 0, 0, 0, 0, 1, 2, 3, 3, 3, 4, 4, 4, 4, 3, 1, 0, 0],
    'BA.5':      [0, 0, 0, 0, 0, 0, 0, 0, 0, 0, 0, 2, 5, 13, 23, 32, 39, 42, 45, 48, 50, 51, 52, 51, 43, 30, 15, 6, 1],
    'BA.5.2':    [0, 0, 0, 0, 0, 0, 0, 0, 0, 0, 0, 0, 1, 2, 5, 8, 10, 13, 15, 17, 19, 21, 22, 22, 19, 14, 8, 4, 1],
    'BQ.1':      [0, 0, 0, 0, 0, 0, 0, 0, 0, 0, 0, 0, 0, 0, 0, 0, 0, 0, 0, 0, 0, 0, 0, 1, 3, 6, 8, 9, 10],
    'BQ.1.1':    [0, 0, 0, 0, 0, 0, 0, 0, 0, 0, 0, 0, 0, 0, 0, 0, 0, 0, 0, 0, 0, 0, 1, 4, 18, 40, 62, 74, 80],
    'XBB.1':     [0, 0, 0, 0, 0, 0, 0, 0, 0, 0, 0, 0, 0, 0, 0, 0, 0, 0, 0, 0, 0, 0, 0, 1, 2, 3, 5, 6, 8],
}

spain = {
    'B.1.617.2': [100, 100, 100, 97, 60, 5, 0, 0, 0, 0, 0, 0, 0, 0, 0, 0, 0, 0, 0, 0, 0, 0, 0, 0, 0, 0, 0, 0, 0],
    'BA.1':      [0, 0, 0, 3, 37, 83, 80, 73, 47, 17, 5, 1, 0, 0, 0, 0, 0, 0, 0, 0, 0, 0, 0, 0, 0, 0, 0, 0, 0],
    'BA.1.1':    [0, 0, 0, 0, 3, 12, 20, 25, 25, 18, 10, 4, 1, 0, 0, 0, 0, 0, 0, 0, 0, 0, 0, 0, 0, 0, 0, 0, 0],
    'BA.2':      [0, 0, 0, 0, 0, 0, 0, 2, 28, 65, 85, 95, 99, 100, 85, 40, 6, 1, 0, 0, 0, 0, 0, 0, 0, 0, 0, 0, 0],
    'BA.2.12.1': [0, 0, 0, 0, 0, 0, 0, 0, 0, 0, 0, 0, 0, 0, 2, 3, 1, 0, 0, 0, 0, 0, 0, 0, 0, 0, 0, 0, 0],
    'BA.2.75':   [0, 0, 0, 0, 0, 0, 0, 0, 0, 0, 0, 0, 0, 0, 0, 0, 0, 0, 0, 0, 1, 2, 2, 3, 3, 3, 2, 1, 1],
    'BA.4':      [0, 0, 0, 0, 0, 0, 0, 0, 0, 0, 0, 0, 0, 0, 4, 7, 6, 5, 4, 3, 2, 1, 0, 0, 0, 0, 0, 0, 0],
    'BA.4.6':    [0, 0, 0, 0, 0, 0, 0, 0, 0, 0, 0, 0, 0, 0, 0, 0, 1, 2, 3, 4, 4, 5, 5, 6, 6, 5, 3, 1, 0],
    'BA.5':      [0, 0, 0, 0, 0, 0, 0, 0, 0, 0, 0, 0, 0, 0, 9, 48, 81, 80, 74, 69, 62, 55, 48, 38, 25, 13, 6, 2, 0],
    'BA.5.2':    [0, 0, 0, 0, 0, 0, 0, 0, 0, 0, 0, 0, 0, 0, 0, 2, 5, 12, 19, 23, 27, 29, 30, 27, 20, 12, 6, 3, 1],
    'BF.7':      [0, 0, 0, 0, 0, 0, 0, 0, 0, 0, 0, 0, 0, 0, 0, 0, 0, 0, 0, 1, 4, 7, 10, 12, 12, 9, 6, 3, 1],
    'BQ.1':      [0, 0, 0, 0, 0, 0, 0, 0, 0, 0, 0, 0, 0, 0, 0, 0, 0, 0, 0, 0, 0, 0, 1, 3, 7, 11, 15, 18, 20],
    'BQ.1.1':    [0, 0, 0, 0, 0, 0, 0, 0, 0, 0, 0, 0, 0, 0, 0, 0, 0, 0, 0, 0, 0, 1, 4, 10, 26, 45, 60, 69, 73],
    'XBB.1':     [0, 0, 0, 0, 0, 0, 0, 0, 0, 0, 0, 0, 0, 0, 0, 0, 0, 0, 0, 0, 0, 0, 0, 1, 1, 2, 2, 3, 4],
}

usa = {
    'B.1.617.2': [100, 100, 98, 85, 40, 5, 0, 0, 0, 0, 0, 0, 0, 0, 0, 0, 0, 0, 0, 0, 0, 0, 0, 0, 0, 0, 0, 0, 0],
    'BA.1':      [0, 0, 2, 12, 40, 30, 22, 15, 10, 5, 2, 0, 0, 0, 0, 0, 0, 0, 0, 0, 0, 0, 0, 0, 0, 0, 0, 0, 0],
    'BA.1.1':    [0, 0, 0, 3, 20, 65, 78, 83, 88, 80, 48, 18, 4, 1, 0, 0, 0, 0, 0, 0, 0, 0, 0, 0, 0, 0, 0, 0, 0],
    'BA.2':      [0, 0, 0, 0, 0, 0, 0, 2, 2, 15, 48, 70, 76, 65, 45, 20, 6, 1, 0, 0, 0, 0, 0, 0, 0, 0, 0, 0, 0],
    'BA.2.12.1': [0, 0, 0, 0, 0, 0, 0, 0, 0, 0, 2, 10, 18, 25, 30, 27, 14, 4, 1, 0, 0, 0, 0, 0, 0, 0, 0, 0, 0],
    'BA.2.75':   [0, 0, 0, 0, 0, 0, 0, 0, 0, 0, 0, 0, 0, 0, 0, 0, 0, 0, 0, 0, 1, 2, 3, 4, 4, 4, 2, 1, 1],
    'BA.4':      [0, 0, 0, 0, 0, 0, 0, 0, 0, 0, 0, 0, 1, 3, 6, 9, 10, 9, 6, 4, 3, 2, 1, 0, 0, 0, 0, 0, 0],
    'BA.4.6':    [0, 0, 0, 0, 0, 0, 0, 0, 0, 0, 0, 0, 0, 0, 0, 0, 1, 3, 5, 7, 8, 8, 8, 7, 5, 3, 2, 1, 0],
    'BA.5':      [0, 0, 0, 0, 0, 0, 0, 0, 0, 0, 0, 2, 1, 6, 18, 42, 65, 76, 77, 72, 64, 54, 42, 30, 19, 10, 4, 1, 0],
    'BA.5.2':    [0, 0, 0, 0, 0, 0, 0, 0, 0, 0, 0, 0, 0, 0, 1, 2, 4, 7, 11, 17, 23, 28, 30, 28, 22, 14, 7, 3, 1],
    'BF.7':      [0, 0, 0, 0, 0, 0, 0, 0, 0, 0, 0, 0, 0, 0, 0, 0, 0, 0, 0, 0, 1, 3, 5, 6, 6, 5, 4, 2, 1],
    'BQ.1':      [0, 0, 0, 0, 0, 0, 0, 0, 0, 0, 0, 0, 0, 0, 0, 0, 0, 0, 0, 0, 0, 1, 5, 10, 16, 20, 23, 25, 25],
    'BQ.1.1':    [0, 0, 0, 0, 0, 0, 0, 0, 0, 0, 0, 0, 0, 0, 0, 0, 0, 0, 0, 0, 0, 2, 6, 14, 27, 42, 55, 63, 66],
    'XBB.1':     [0, 0, 0, 0, 0, 0, 0, 0, 0, 0, 0, 0, 0, 0, 0, 0, 0, 0, 0, 0, 0, 0, 0, 1, 1, 2, 3, 4, 6],
}

united_kingdom = {
    'B.1.617.2': [100, 100, 98, 85, 35, 3, 0, 0, 0, 0, 0, 0, 0, 0, 0, 0, 0, 0, 0, 0, 0, 0, 0, 0, 0, 0, 0, 0, 0],
    'BA.1':      [0, 0, 2, 14, 59, 81, 73, 57, 36, 17, 7, 3, 1, 0, 0, 0, 0, 0, 0, 0, 0, 0, 0, 0, 0, 0, 0, 0, 0],
    'BA.1.1':    [0, 0, 0, 1, 6, 15, 22, 25, 22, 15, 8, 3, 1, 0, 0, 0, 0, 0, 0, 0, 0, 0, 0, 0, 0, 0, 0, 0, 0],
    'BA.2':      [0, 0, 0, 0, 0, 1, 5, 18, 42, 68, 85, 94, 98, 100, 94, 65, 20, 4, 1, 0, 0, 0, 0, 0, 0, 0, 0, 0, 0],
    'BA.2.12.1': [0, 0, 0, 0, 0, 0, 0, 0, 0, 0, 0, 0, 0, 0, 2, 3, 2, 0, 0, 0, 0, 0, 0, 0, 0, 0, 0, 0, 0],
    'BA.2.75':   [0, 0, 0, 0, 0, 0, 0, 0, 0, 0, 0, 0, 0, 0, 0, 0, 0, 0, 0, 0, 2, 3, 4, 5, 6, 6, 5, 4, 2],
    'BA.4':      [0, 0, 0, 0, 0, 0, 0, 0, 0, 0, 0, 0, 0, 0, 2, 6, 9, 8, 6, 5, 4, 3, 2, 1, 0, 0, 0, 0, 0],
    'BA.4.6':    [0, 0, 0, 0, 0, 0, 0, 0, 0, 0, 0, 0, 0, 0, 0, 0, 1, 2, 3, 3, 4, 4, 4, 4, 3, 2, 1, 0, 0],
    'BA.5':      [0, 0, 0, 0, 0, 0, 0, 0, 0, 0, 0, 0, 0, 0, 2, 24, 62, 74, 72, 66, 56, 48, 38, 28, 17, 8, 3, 1, 0],
    'BA.5.2':    [0, 0, 0, 0, 0, 0, 0, 0, 0, 0, 0, 0, 0, 0, 0, 2, 6, 12, 18, 25, 32, 38, 42, 40, 30, 17, 8, 3, 1],
    'BF.7':      [0, 0, 0, 0, 0, 0, 0, 0, 0, 0, 0, 0, 0, 0, 0, 0, 0, 0, 0, 1, 2, 3, 5, 6, 6, 5, 3, 2, 1],
    'BQ.1':      [0, 0, 0, 0, 0, 0, 0, 0, 0, 0, 0, 0, 0, 0, 0, 0, 0, 0, 0, 0, 0, 0, 1, 3, 7, 11, 14, 16, 17],
    'BQ.1.1':    [0, 0, 0, 0, 0, 0, 0, 0, 0, 0, 0, 0, 0, 0, 0, 0, 0, 0, 0, 0, 0, 1, 4, 12, 30, 50, 64, 72, 76],
    'XBB.1':     [0, 0, 0, 0, 0, 0, 0, 0, 0, 0, 0, 0, 0, 0, 0, 0, 0, 0, 0, 0, 0, 0, 0, 1, 1, 1, 2, 2, 3],
}

country_data = {
    'Australia': australia, 'Belgium': belgium, 'Brazil': brazil, 'Denmark': denmark,
    'France': france, 'Germany': germany, 'India': india, 'Israel': israel,
    'Japan': japan, 'Mexico': mexico, 'New Zealand': new_zealand, 'Singapore': singapore,
    'South Africa': south_africa, 'Spain': spain, 'USA': usa, 'United Kingdom': united_kingdom,
}


def main():
    dates = pd.to_datetime(sample_dates)
    fig, axs = plt.subplots(4, 4, figsize=(10, 6.96), sharex=True, sharey=True)
    fig.subplots_adjust(left=0.067, right=0.831, top=0.9415, bottom=0.0675,
                        wspace=0.2125, hspace=0.456)
    for ax, name in zip(axs.ravel(), countries):
        plotCountry(ax, dates, country_data[name])
        ax.set_title(name, fontweight='bold', fontsize=10.5, pad=10.5)

    axs[0, 0].set_xticks(pd.to_datetime(tick_dates))
    axs[0, 0].set_xticklabels(tick_labels)
    axs[0, 0].xaxis.set_minor_locator(mdates.MonthLocator())
    axs[0, 0].set_yticks([0, 0.5, 1.0])
    axs[0, 0].set_xlim(dates[0], dates[-1])
    axs[0, 0].set_ylim(0, 1)
    for ax in axs[:, 0]:
        ax.set_ylabel('Variant proportion', fontsize=10)

    handles = [Patch(facecolor=c, edgecolor='none') for c in variant_colors]
    leg = fig.legend(handles, variants, loc='upper left', bbox_to_anchor=(0.872, 0.967),
                     fontsize=10, labelspacing=0.58, borderaxespad=0)
    for txt in leg.get_texts():
        if txt.get_text() in bold_variants:
            txt.set_fontweight('bold')

    fig.savefig('out.png', dpi=100)
    return


def plotCountry(ax, dates, data):
    zero = [0] * len(dates)
    arr = np.array([data.get(v, zero) for v in variants], dtype=float)
    arr = arr / arr.sum(axis=0)
    # last variant in the legend sits at the bottom of the stack
    ax.stackplot(dates, arr[::-1], colors=variant_colors[::-1], linewidth=0)
    ax.axvspan(pd.Timestamp(forecast_start), dates[-1], color='white', alpha=0.5, lw=0)
    ax.grid(True, which='major', linestyle=':', color='#aaaaaa', linewidth=0.8)
    ax.set_axisbelow(False)
    for spine in ax.spines.values():
        spine.set_visible(False)
    return ax


if __name__ == '__main__':
    main()
